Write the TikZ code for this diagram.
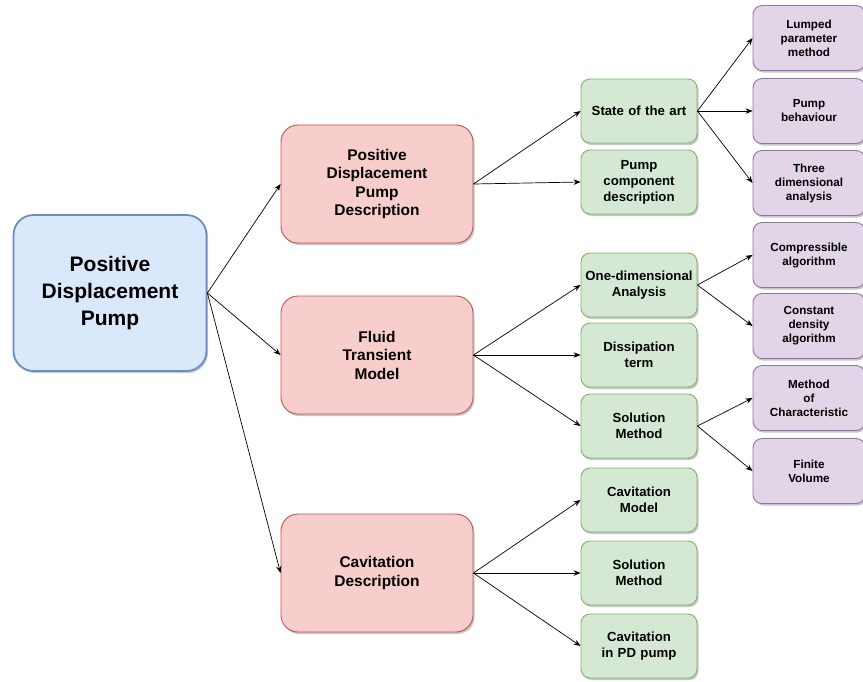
\documentclass[tikz,border=0pt]{standalone}
\usepackage{fontspec}
\setmainfont{Liberation Sans}
\usepackage{tikz}
\usetikzlibrary{arrows.meta}
\usetikzlibrary{shadows}

\definecolor{blueFill}{HTML}{DAE8FC}
\definecolor{blueLine}{HTML}{6C8EBF}
\definecolor{redFill}{HTML}{F8CECC}
\definecolor{redLine}{HTML}{B85450}
\definecolor{greenFill}{HTML}{D5E8D4}
\definecolor{greenLine}{HTML}{82B366}
\definecolor{purpleFill}{HTML}{E1D5E7}
\definecolor{purpleLine}{HTML}{9673A6}

\begin{document}
\begin{tikzpicture}[x=1pt,y=1pt,yscale=-1,
  box/.style={draw, align=center, inner sep=2pt, line width=0.9pt,
    drop shadow={shadow xshift=1.5pt, shadow yshift=-2pt, fill=black, opacity=0.22}},
  pumpbox/.style={box, fill=blueFill, draw=blueLine, line width=1.8pt, rounded corners=20pt,
    minimum width=193pt, minimum height=156pt, text width=185pt,
    font={\bfseries\fontsize{21}{27}\selectfont}},
  topicbox/.style={box, fill=redFill, draw=redLine, rounded corners=17pt,
    minimum width=192pt, minimum height=118pt, text width=180pt,
    font={\bfseries\fontsize{15.5}{18.5}\selectfont}},
  subbox/.style={box, fill=greenFill, draw=greenLine, rounded corners=9pt,
    minimum width=116pt, minimum height=64pt, text width=112pt,
    font={\bfseries\fontsize{13.2}{16}\selectfont}},
  leafbox/.style={box, fill=purpleFill, draw=purpleLine, rounded corners=9pt,
    minimum width=112pt, minimum height=65pt, text width=104pt,
    font={\bfseries\fontsize{11.7}{14}\selectfont}},
  link/.style={-{Stealth[length=7pt,width=5.5pt]}, line width=0.7pt}
]
\useasboundingbox (0,0) rectangle (863,681);

\node[pumpbox] (pdp) at (110,293) {Positive\\Displacement\\Pump};

\node[topicbox] (pdpdesc) at (377,184) {Positive\\Displacement\\Pump\\Description};
\node[topicbox] (ftm) at (377,355) {Fluid\\Transient\\Model};
\node[topicbox] (cavdesc) at (377,573) {Cavitation\\Description};

\node[subbox] (sota) at (639,111) {State of the art};
\node[subbox] (component) at (639,182) {Pump\\component\\description};
\node[subbox] (onedim) at (639,285) {One-dimensional\\Analysis};
\node[subbox] (dissip) at (639,355) {Dissipation\\term};
\node[subbox] (solftm) at (639,426) {Solution\\Method};
\node[subbox] (cavmodel) at (639,500) {Cavitation\\Model};
\node[subbox] (solcav) at (639,573) {Solution\\Method};
\node[subbox] (cavpd) at (639,646) {Cavitation\\in PD pump};

\node[leafbox] (lumped) at (809,38) {Lumped\\parameter\\method};
\node[leafbox] (behaviour) at (809,111) {Pump\\behaviour};
\node[leafbox] (threed) at (809,183) {Three\\dimensional\\analysis};
\node[leafbox] (compress) at (809,255) {Compressible\\algorithm};
\node[leafbox] (constdens) at (809,326) {Constant\\density\\algorithm};
\node[leafbox] (moc) at (809,398) {Method\\of\\Characteristic};
\node[leafbox] (fvol) at (809,471) {Finite\\Volume};

\draw[link] (pdp.east) -- (pdpdesc.west);
\draw[link] (pdp.east) -- (ftm.west);
\draw[link] (pdp.east) -- (cavdesc.west);

\draw[link] (pdpdesc.east) -- (sota.west);
\draw[link] (pdpdesc.east) -- (component.west);
\draw[link] (ftm.east) -- (onedim.west);
\draw[link] (ftm.east) -- (dissip.west);
\draw[link] (ftm.east) -- (solftm.west);
\draw[link] (cavdesc.east) -- (cavmodel.west);
\draw[link] (cavdesc.east) -- (solcav.west);
\draw[link] (cavdesc.east) -- (cavpd.west);

\draw[link] (sota.east) -- (lumped.west);
\draw[link] (sota.east) -- (behaviour.west);
\draw[link] (sota.east) -- (threed.west);
\draw[link] (onedim.east) -- (compress.west);
\draw[link] (onedim.east) -- (constdens.west);
\draw[link] (solftm.east) -- (moc.west);
\draw[link] (solftm.east) -- (fvol.west);

\end{tikzpicture}
\end{document}
